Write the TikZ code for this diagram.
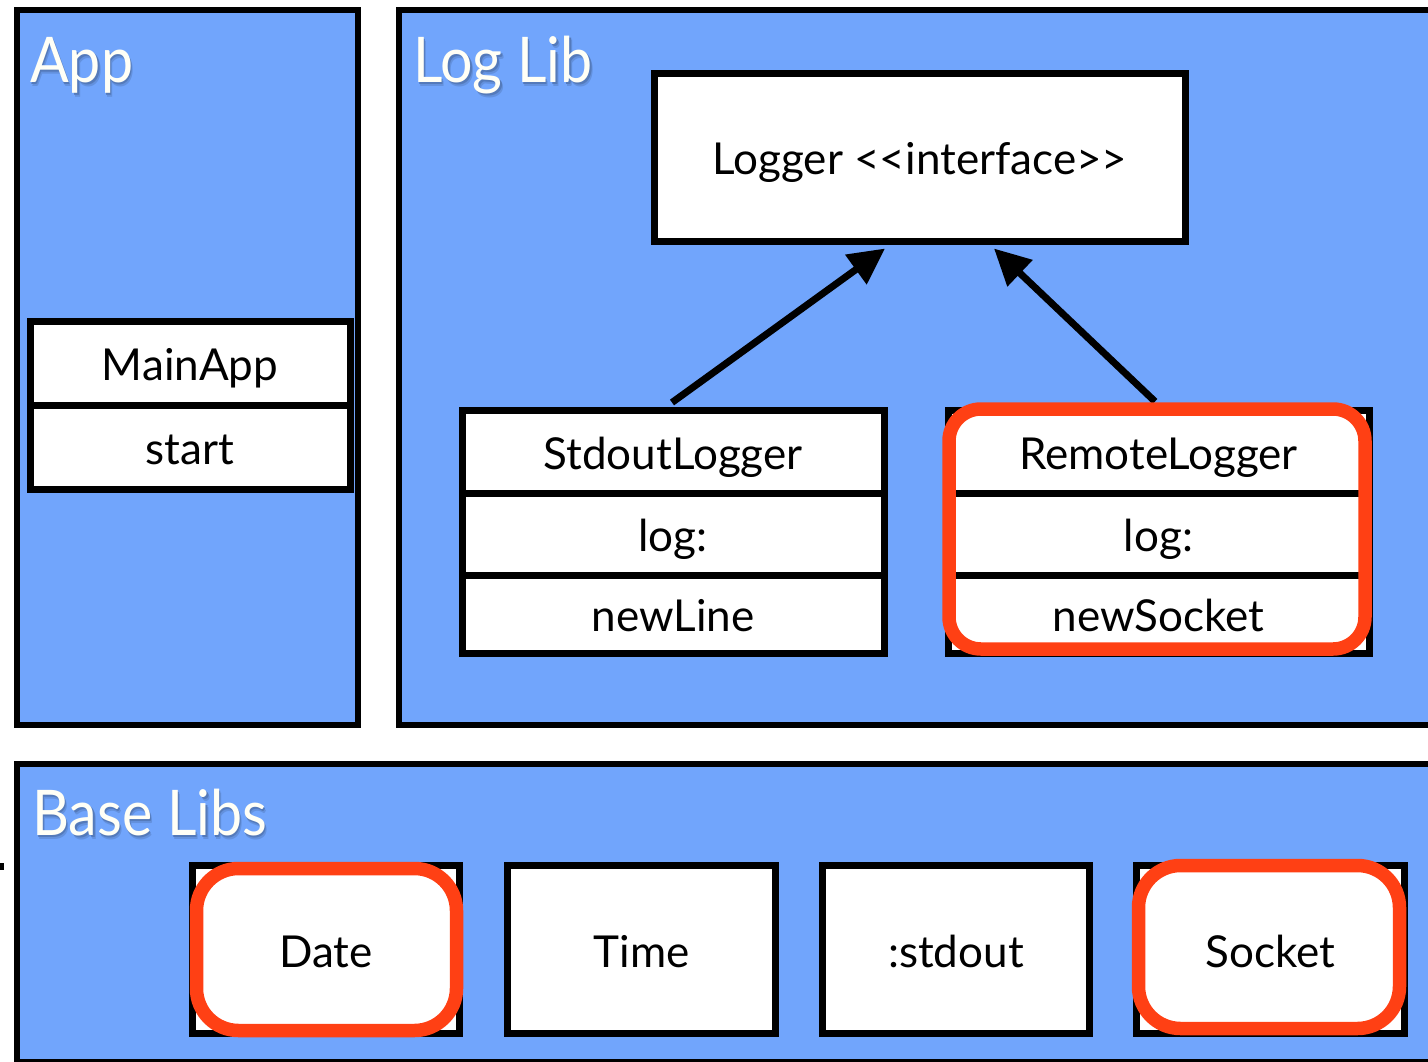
\documentclass[tikz,border=0pt]{standalone}
\usepackage{fontspec}
\setmainfont{Lato}
\newfontfamily\titlefont{Lato}[FakeStretch=0.91]
\usetikzlibrary{arrows.meta}

\definecolor{panelblue}{RGB}{113,165,252}
\definecolor{markred}{RGB}{255,64,20}
\definecolor{labelwhite}{RGB}{255,255,246}
\colorlet{titleshadeout}{panelblue!88!black}
\colorlet{titleshadein}{panelblue!74!black}

% a title with a soft drop shadow behind it
\newcommand\shadedtitle[1]{%
  \rlap{\kern2.5pt\raisebox{-4pt}{\textcolor{titleshadeout}{#1}}}%
  \rlap{\kern1.5pt\raisebox{-2.5pt}{\textcolor{titleshadein}{#1}}}#1}

\tikzset{
  panel/.style={draw=black, line width=6pt, fill=panelblue},
  panellabel/.style={anchor=base west, inner sep=0pt, text=labelwhite,
    font=\titlefont\fontsize{63}{70}\selectfont},
  cell/.style={draw=black, line width=7pt, fill=white, inner sep=0pt,
    text height=35pt, text depth=0pt, font=\fontsize{44}{50}\selectfont},
  focusbox/.style={draw=markred, line width=13.5pt, inner sep=0pt},
  implements/.style={line width=7pt, -{Triangle[length=36pt, width=35pt]}},
}

\begin{document}
\begin{tikzpicture}[x=1pt, y=-1pt]
  \useasboundingbox (0,0) rectangle (1428,1061);
  \clip (0,0) rectangle (1428,1061);
  \fill[white] (0,0) rectangle (1428,1061);

  % package panels
  \draw[panel] (17,9.5) rectangle (358,724.5);
  \draw[panel] (399,9.5) rectangle (1440,724.5);
  \draw[panel] (17,764) rectangle (1440,1061.5);
  \fill[black] (0,863) rectangle (4,870);

  % panel titles
  \node[panellabel] (applabel)  at (30,82)  {\shadedtitle{App}};
  \node[panellabel] (loglabel)  at (413,82) {\shadedtitle{Log Lib}};
  \node[panellabel] (baselabel) at (32,835) {\shadedtitle{Base Libs}};

  % App
  \node[cell, minimum width=320pt, minimum height=84pt] (mainapp) at (190,363) {MainApp};
  \node[cell, minimum width=320pt, minimum height=84pt] (start)   at (190,447) {start};

  % Log Lib
  \node[cell, minimum width=531pt, minimum height=168pt] (logger) at (920,157)
    {Logger <\kern0pt<interface>\kern0pt>};

  \node[cell, minimum width=422pt, minimum height=83pt] (stdout)    at (673,451.5) {StdoutLogger};
  \node[cell, minimum width=422pt, minimum height=82pt] (stdoutlog) at (673,534)   {log:};
  \node[cell, minimum width=422pt, minimum height=78pt] (newline)   at (673,614)   {newLine};

  \node[cell, minimum width=421pt, minimum height=83pt] (remote)    at (1158.5,451.5) {RemoteLogger};
  \node[cell, minimum width=421pt, minimum height=82pt] (remotelog) at (1158.5,534)   {log:};
  \node[cell, minimum width=421pt, minimum height=78pt] (newsocket) at (1158.5,614)   {newSocket};

  \draw[implements] ([xshift=-1pt,yshift=4pt]stdout.north) -- ([xshift=-35pt,yshift=-4pt]logger.south);
  \draw[implements] ([xshift=-3.5pt,yshift=5pt]remote.north) -- ([xshift=74pt,yshift=-4pt]logger.south);

  % Base Libs
  \node[cell, minimum width=267pt, minimum height=168pt] (date)   at (326,949.5)   {Date};
  \node[cell, minimum width=268pt, minimum height=168pt] (time)   at (641.5,949.5) {Time};
  \node[cell, minimum width=267pt, minimum height=168pt] (stdoutlib) at (956,949.5) {:stdout};
  \node[cell, minimum width=268pt, minimum height=168pt] (socket) at (1270.5,949.5) {Socket};

  % highlighted classes
  \node[focusbox, rounded corners=32pt, minimum width=416pt, minimum height=240pt] (remotemark) at (1157,529) {};
  \node[focusbox, rounded corners=42pt, minimum width=260pt, minimum height=162pt] (datemark) at (326.5,949.5) {};
  \node[focusbox, rounded corners=42pt, minimum width=261pt, minimum height=163pt] (socketmark) at (1269,947) {};
\end{tikzpicture}
\end{document}
